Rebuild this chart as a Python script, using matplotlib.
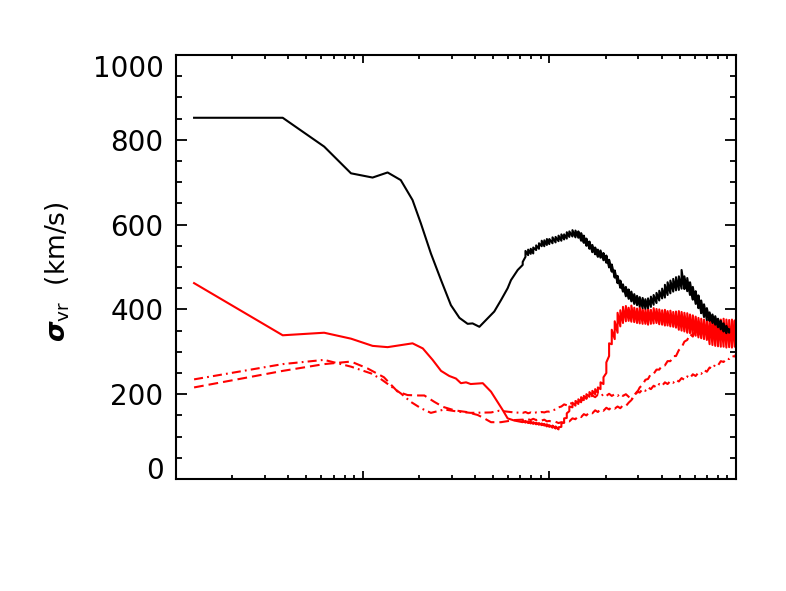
import numpy as np
import matplotlib
matplotlib.use('Agg')
import matplotlib.pyplot as plt
from matplotlib.ticker import LogLocator, MultipleLocator, NullFormatter

plt.rcParams['font.family'] = ['DejaVu Sans']
plt.rcParams['lines.scale_dashes'] = False

# shared x grid for the noisy right-hand part
x_fine = [7.2, 7.45, 7.7, 7.95, 8.2, 8.5, 8.8, 9.1, 9.4, 9.7,
          10.0, 10.4, 10.8, 11.2, 11.6, 12.0, 12.4, 12.8, 13.3, 13.8,
          14.3, 14.8, 15.3, 15.8, 16.4, 17.0, 17.6, 18.2, 18.8, 19.5,
          20.2, 20.9, 21.6, 22.4, 23.2, 24.0, 24.8, 25.7, 26.6, 27.5,
          28.5, 29.5, 30.5, 31.6, 32.7, 33.8, 35.0, 36.2, 37.5, 38.8,
          40.2, 41.6, 43.0, 44.5, 46.1, 47.7, 49.4, 51.1, 52.9, 54.8,
          56.7, 58.7, 60.8, 62.9, 65.1, 67.4, 69.8, 72.2, 74.8, 77.4,
          80.1, 82.9, 85.8, 88.8, 91.9, 95.1, 98.4, 100.0]

# black curve: smooth part, then low/high of the noise on x_fine
blk_x = [0.125, 0.373, 0.622, 0.866, 1.13, 1.36, 1.60, 1.85, 2.05, 2.32, 2.63,
         2.97, 3.30, 3.65, 3.88, 4.22, 4.58, 5.07, 5.51, 5.98, 6.23, 6.77]
blk_y = [852, 852, 784, 721, 711, 723, 705, 658, 603, 532, 469,
         410, 380, 366, 367, 359, 375, 395, 422, 450, 469, 493]
blk_lo = [505, 524, 528, 531, 532, 540, 543, 549, 549, 552,
          554, 556, 558, 561, 562, 565, 567, 571, 572, 570,
          569, 562, 557, 550, 543, 535, 530, 524, 522, 516,
          510, 499, 489, 475, 462, 451, 442, 431, 425, 419,
          413, 410, 407, 403, 402, 403, 406, 411, 415, 421,
          426, 428, 434, 438, 442, 445, 446, 449, 448, 443,
          434, 423, 413, 403, 391, 382, 375, 373, 368, 364,
          358, 353, 348, 344, 345]
blk_hi = [512, 538, 541, 543, 546, 551, 556, 562, 563, 566,
          566, 570, 571, 574, 577, 577, 582, 584, 587, 586,
          584, 580, 574, 567, 560, 552, 546, 541, 539, 533,
          527, 517, 506, 492, 479, 468, 459, 453, 447, 442,
          436, 432, 429, 427, 424, 426, 430, 434, 439, 444,
          449, 458, 464, 468, 472, 476, 478, 493, 478, 474,
          464, 453, 443, 433, 421, 412, 403, 393, 388, 384,
          378, 373, 367, 361, 353]

# red solid
red_x = [0.125, 0.373, 0.622, 0.866, 1.13, 1.36, 1.85, 2.10, 2.37, 2.63, 2.91,
         3.16, 3.36, 3.58, 3.79, 4.40, 4.87, 5.28, 5.62, 5.98, 6.48]
red_y = [462, 339, 345, 331, 314, 311, 320, 308, 281, 255, 243,
         237, 226, 228, 224, 226, 206, 182, 163, 143, 138]
red_lo = [134, 133, 132, 131, 130, 129, 128, 127, 126, 124,
          123, 121, 119, 117, 123, 133, 144, 160, 169, 173,
          177, 181, 186, 189, 194, 197, 200, 203, 212, 224,
          250, 290, 318, 330, 345, 360, 368, 372, 373, 371,
          370, 368, 367, 366, 366, 364, 366, 367, 368, 365,
          364, 362, 362, 360, 359, 357, 352, 350, 348, 345,
          344, 340, 338, 334, 332, 330, 328, 318, 316, 314,
          313, 312, 312, 310, 311, 310, 312, 314]
red_hi = [138, 137, 136, 135, 134, 133, 132, 131, 130, 129,
          127, 126, 124, 122, 131, 143, 155, 171, 180, 184,
          188, 193, 196, 200, 205, 208, 212, 216, 228, 240,
          275, 320, 352, 372, 392, 398, 406, 408, 404, 409,
          404, 402, 405, 401, 400, 402, 399, 403, 401, 400,
          398, 399, 396, 397, 394, 395, 396, 394, 392, 391,
          388, 386, 383, 380, 378, 376, 374, 380, 378, 378,
          377, 376, 378, 376, 375, 376, 374, 370]

# red dashed
dsh_x = [0.125, 0.373, 0.622, 0.866, 1.06, 1.3, 1.54, 1.74, 2.0, 2.14,
         2.42, 2.7, 3.1, 3.6, 4.13, 4.4, 4.87, 5.5, 6.5]
dsh_y = [216, 255, 271, 277, 261, 240, 206, 198, 197, 197,
         182, 170, 162, 158, 151, 145, 134, 134, 139]
dsh_fine = [140, 138, 141, 139, 142, 139, 141, 138, 140, 136,
            137, 134, 135, 132, 134, 133, 138, 136, 143, 141,
            149, 146, 153, 150, 158, 155, 162, 158, 165, 161,
            168, 164, 170, 166, 171, 167, 174, 172, 180, 186,
            196, 204, 216, 222, 234, 236, 248, 248, 258, 258,
            268, 268, 278, 278, 290, 290, 304, 310, 324, 328,
            342, 336, 352, 340, 356, 342, 358, 340, 354, 336,
            352, 334, 354, 332, 356, 334, 352, 340]

# red dash-dot
dd_x = [0.125, 0.373, 0.622, 0.866, 1.11, 1.25, 1.6, 1.81, 2.05, 2.32,
        2.74, 3.23, 3.79, 4.87, 5.39, 6.5]
dd_y = [235, 271, 281, 265, 249, 236, 202, 182, 167, 156,
        164, 159, 156, 157, 161, 157]
dd_fine = [156, 158, 155, 157, 155, 157, 156, 158, 157, 159,
           159, 162, 164, 169, 171, 176, 174, 179, 178, 183,
           181, 187, 185, 192, 190, 197, 193, 199, 195, 200,
           196, 201, 196, 200, 196, 201, 196, 200, 194, 186,
           198, 206, 204, 212, 208, 216, 212, 220, 216, 224,
           220, 228, 224, 231, 227, 234, 230, 238, 234, 242,
           238, 247, 243, 251, 248, 257, 253, 263, 260, 270,
           268, 278, 276, 284, 283, 290, 289, 294]


def noisy(xs, lo, hi):
    # each sample is a vertical stroke lo -> hi, then on to the next sample
    n = len(lo)
    xx = np.repeat(np.asarray(xs[:n], float), 2)
    yy = np.column_stack([lo, hi]).astype(float).ravel()
    return xx, yy


fig = plt.figure(figsize=(7.86, 5.91), dpi=100)
ax = fig.add_axes([0.2239, 0.1895, 0.7125, 0.7174])

lw = 1.5
ax.plot(dd_x + x_fine[:len(dd_fine)], dd_y + dd_fine, color='red', lw=lw,
        dashes=(6.5, 3.0, 1.3, 3.0))
ax.plot(dsh_x + x_fine[:len(dsh_fine)], dsh_y + dsh_fine, color='red', lw=lw,
        dashes=(7.0, 3.6))

rx, ry = noisy(x_fine, red_lo, red_hi)
ax.plot(np.r_[red_x, rx], np.r_[red_y, ry], color='red', lw=lw)
bx, by = noisy(x_fine, blk_lo, blk_hi)
ax.plot(np.r_[blk_x, bx], np.r_[blk_y, by], color='black', lw=lw)

ax.set_xscale('log')
ax.set_xlim(0.1, 100)
ax.set_ylim(0, 1000)
ax.xaxis.set_major_locator(LogLocator(base=10))
ax.xaxis.set_minor_locator(LogLocator(base=10, subs=np.arange(2, 10)))
ax.xaxis.set_major_formatter(NullFormatter())
ax.xaxis.set_minor_formatter(NullFormatter())
ax.set_yticks([0, 200, 400, 600, 800, 1000])
ax.yaxis.set_minor_locator(MultipleLocator(50))

ax.tick_params(which='both', direction='in', top=True, right=True,
               width=1.3, color='black')
ax.tick_params(axis='x', which='major', length=6.1)
ax.tick_params(axis='x', which='minor', length=3.0)
ax.tick_params(axis='y', which='major', length=7.9, labelsize=20, pad=9)
ax.tick_params(axis='y', which='minor', length=4.0)
for s in ax.spines.values():
    s.set_linewidth(1.5)

ax.set_ylabel(r'$\boldsymbol{\sigma}_{\rm vr}$  (km/s)', fontsize=19)
ax.yaxis.set_label_coords(-0.186, 0.49)

# keep the end labels inside the axis range, as in the original
fig.canvas.draw()
for tick in ax.yaxis.get_major_ticks():
    if tick.get_loc() == 0:
        tick.label1.set_va('baseline')
    elif tick.get_loc() == 1000:
        tick.label1.set_va('top')

fig.savefig('out.png', dpi=100)
